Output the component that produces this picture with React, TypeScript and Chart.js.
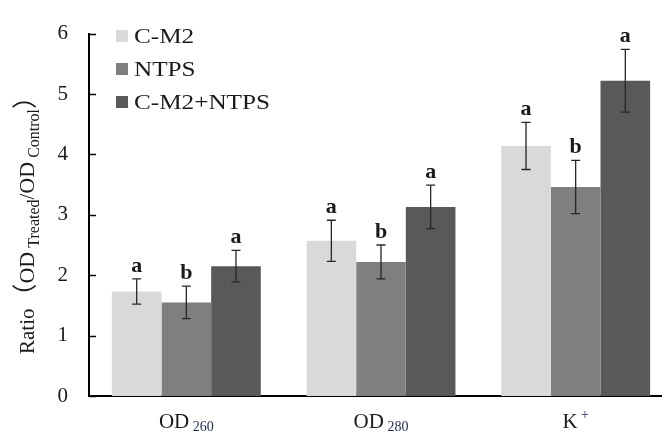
import React, { useEffect, useRef } from 'react';
import { Chart, registerables } from 'chart.js';

Chart.register(...registerables);

// ---- data ----
const categories = ['OD 260', 'OD 280', 'K +'];
const catMain = ['OD', 'OD', 'K'];
const catSub = ['260', '280', '+'];
const catSubIsSuper = [false, false, true];

const seriesNames = ['C-M2', 'NTPS', 'C-M2+NTPS'];
const cm2Values = [1.73, 2.57, 4.14];
const ntpsValues = [1.55, 2.22, 3.46];
const comboValues = [2.15, 3.13, 5.22];

const cm2Err = [0.21, 0.34, 0.39];
const ntpsErr = [0.27, 0.28, 0.44];
const comboErr = [0.26, 0.36, 0.52];

const cm2Sig = ['a', 'a', 'a'];
const ntpsSig = ['b', 'b', 'b'];
const comboSig = ['a', 'a', 'a'];

const yTicks = [0, 1, 2, 3, 4, 5, 6];

const seriesColors = ['#d9d9d9', '#7f7f7f', '#595959'];

const SERIF = "'Liberation Serif', 'Times New Roman', serif";
const CJK = "'Noto Sans CJK SC', 'Liberation Serif', serif";
const TEXT = '#1a1a1a';

const values = [cm2Values, ntpsValues, comboValues];
const errs = [cm2Err, ntpsErr, comboErr];
const sigs = [cm2Sig, ntpsSig, comboSig];

type Seg = { text: string; size: number; dy: number; color?: string; family?: string };

function drawRich(
  ctx: CanvasRenderingContext2D,
  segs: Seg[],
  cx: number,
  cy: number,
  rot: number,
  sx = 1
) {
  ctx.save();
  ctx.translate(cx, cy);
  ctx.rotate(rot);
  ctx.scale(sx, 1);
  ctx.textBaseline = 'alphabetic';
  ctx.textAlign = 'left';
  let total = 0;
  const widths: number[] = [];
  for (const s of segs) {
    ctx.font = `${s.size}px ${s.family || SERIF}`;
    const w = ctx.measureText(s.text).width;
    widths.push(w);
    total += w;
  }
  let x = -total / 2;
  segs.forEach((s, i) => {
    ctx.font = `${s.size}px ${s.family || SERIF}`;
    ctx.fillStyle = s.color || TEXT;
    ctx.fillText(s.text, x, s.dy);
    x += widths[i];
  });
  ctx.restore();
}

export default function App() {
  const ref = useRef<HTMLCanvasElement>(null);

  useEffect(() => {
    const canvas = ref.current!;

    const decorPlugin = {
      id: 'decor',
      afterDatasetsDraw(chart: any) {
        const ctx: CanvasRenderingContext2D = chart.ctx;
        const yScale = chart.scales.y;
        values.forEach((vals, d) => {
          const meta = chart.getDatasetMeta(d);
          meta.data.forEach((bar: any, i: number) => {
            const x = bar.x;
            const top = yScale.getPixelForValue(vals[i] + errs[d][i]);
            const bot = yScale.getPixelForValue(vals[i] - errs[d][i]);
            ctx.save();
            ctx.strokeStyle = '#262626';
            ctx.lineWidth = 1.3;
            ctx.beginPath();
            ctx.moveTo(x, top);
            ctx.lineTo(x, bot);
            ctx.moveTo(x - 4.5, top);
            ctx.lineTo(x + 4.5, top);
            ctx.moveTo(x - 4.5, bot);
            ctx.lineTo(x + 4.5, bot);
            ctx.stroke();
            ctx.font = `bold 22px ${SERIF}`;
            ctx.fillStyle = TEXT;
            ctx.textAlign = 'center';
            ctx.textBaseline = 'alphabetic';
            ctx.fillText(sigs[d][i], x, top - 7);
            ctx.restore();
          });
        });
      },
      afterDraw(chart: any) {
        const ctx: CanvasRenderingContext2D = chart.ctx;
        const yScale = chart.scales.y;
        const xScale = chart.scales.x;
        const area = chart.chartArea;
        // inner tick marks on y axis
        ctx.save();
        ctx.strokeStyle = '#000';
        ctx.lineWidth = 1.5;
        ctx.beginPath();
        yTicks.forEach((t) => {
          const y = Math.round(yScale.getPixelForValue(t)) + 0.5;
          ctx.moveTo(area.left, y);
          ctx.lineTo(area.left + 7, y);
        });
        ctx.stroke();
        ctx.restore();

        // x category labels with sub/superscripts
        categories.forEach((_, i) => {
          const cx = xScale.getPixelForValue(i);
          drawRich(
            ctx,
            [
              { text: catMain[i], size: 21, dy: 0 },
              { text: ' ' + catSub[i], size: 14, dy: catSubIsSuper[i] ? -9 : 3, color: '#1c2a48' },
            ],
            cx,
            area.bottom + 32,
            0
          );
        });

        // y axis title
        drawRich(
          ctx,
          [
            { text: 'Ratio', size: 21, dy: 0 },
            { text: '（', size: 25, dy: 0, family: CJK },
            { text: 'OD', size: 22, dy: 0 },
            { text: ' Treated', size: 16, dy: 5 },
            { text: '/', size: 21, dy: 0 },
            { text: 'OD', size: 22, dy: 0 },
            { text: ' Control', size: 16, dy: 5 },
            { text: '）', size: 25, dy: 0, family: CJK },
          ],
          34,
          219,
          -Math.PI / 2
        );

        // legend
        seriesNames.forEach((name, i) => {
          const cy = 36 + i * 33;
          ctx.save();
          ctx.fillStyle = seriesColors[i];
          ctx.fillRect(area.left + 27, cy - 6, 12, 12);
          ctx.translate(area.left + 45, cy + 7);
          ctx.scale(1.2, 1);
          ctx.fillStyle = TEXT;
          ctx.font = `21px ${SERIF}`;
          ctx.textAlign = 'left';
          ctx.textBaseline = 'alphabetic';
          ctx.fillText(name, 0, 0);
          ctx.restore();
        });
      },
    };

    const chart = new Chart(canvas, {
      type: 'bar',
      data: {
        labels: categories,
        datasets: seriesNames.map((name, d) => ({
          label: name,
          data: values[d],
          backgroundColor: seriesColors[d],
          borderWidth: 0,
          barPercentage: 1,
          categoryPercentage: 0.765,
        })),
      },
      options: {
        responsive: false,
        animation: false,
        layout: { padding: { top: 20, right: 0, left: 0, bottom: 0 } },
        plugins: {
          legend: { display: false },
          tooltip: { enabled: false },
        },
        scales: {
          x: {
            grid: { display: false, drawTicks: false },
            border: { display: true, color: '#000', width: 2 },
            ticks: { display: false },
            afterFit: (s: any) => {
              s.height = 41;
            },
          },
          y: {
            min: 0,
            max: 6,
            grid: { display: false, drawTicks: false },
            border: { display: true, color: '#000', width: 2 },
            ticks: {
              stepSize: 1,
              padding: 21,
              color: TEXT,
              font: { family: SERIF, size: 21 },
              callback: (v: any) => (yTicks.includes(Number(v)) ? String(v) : ''),
            },
            afterFit: (s: any) => {
              s.width = 89;
            },
          },
        },
      },
      plugins: [decorPlugin],
    });

    return () => chart.destroy();
  }, []);

  return (
    <div
      style={{
        position: 'absolute',
        left: 0,
        top: 0,
        width: 662,
        height: 437,
        overflow: 'hidden',
        background: '#fff',
      }}
    >
      <canvas ref={ref} width={673} height={437} style={{ display: 'block' }} />
    </div>
  );
}
